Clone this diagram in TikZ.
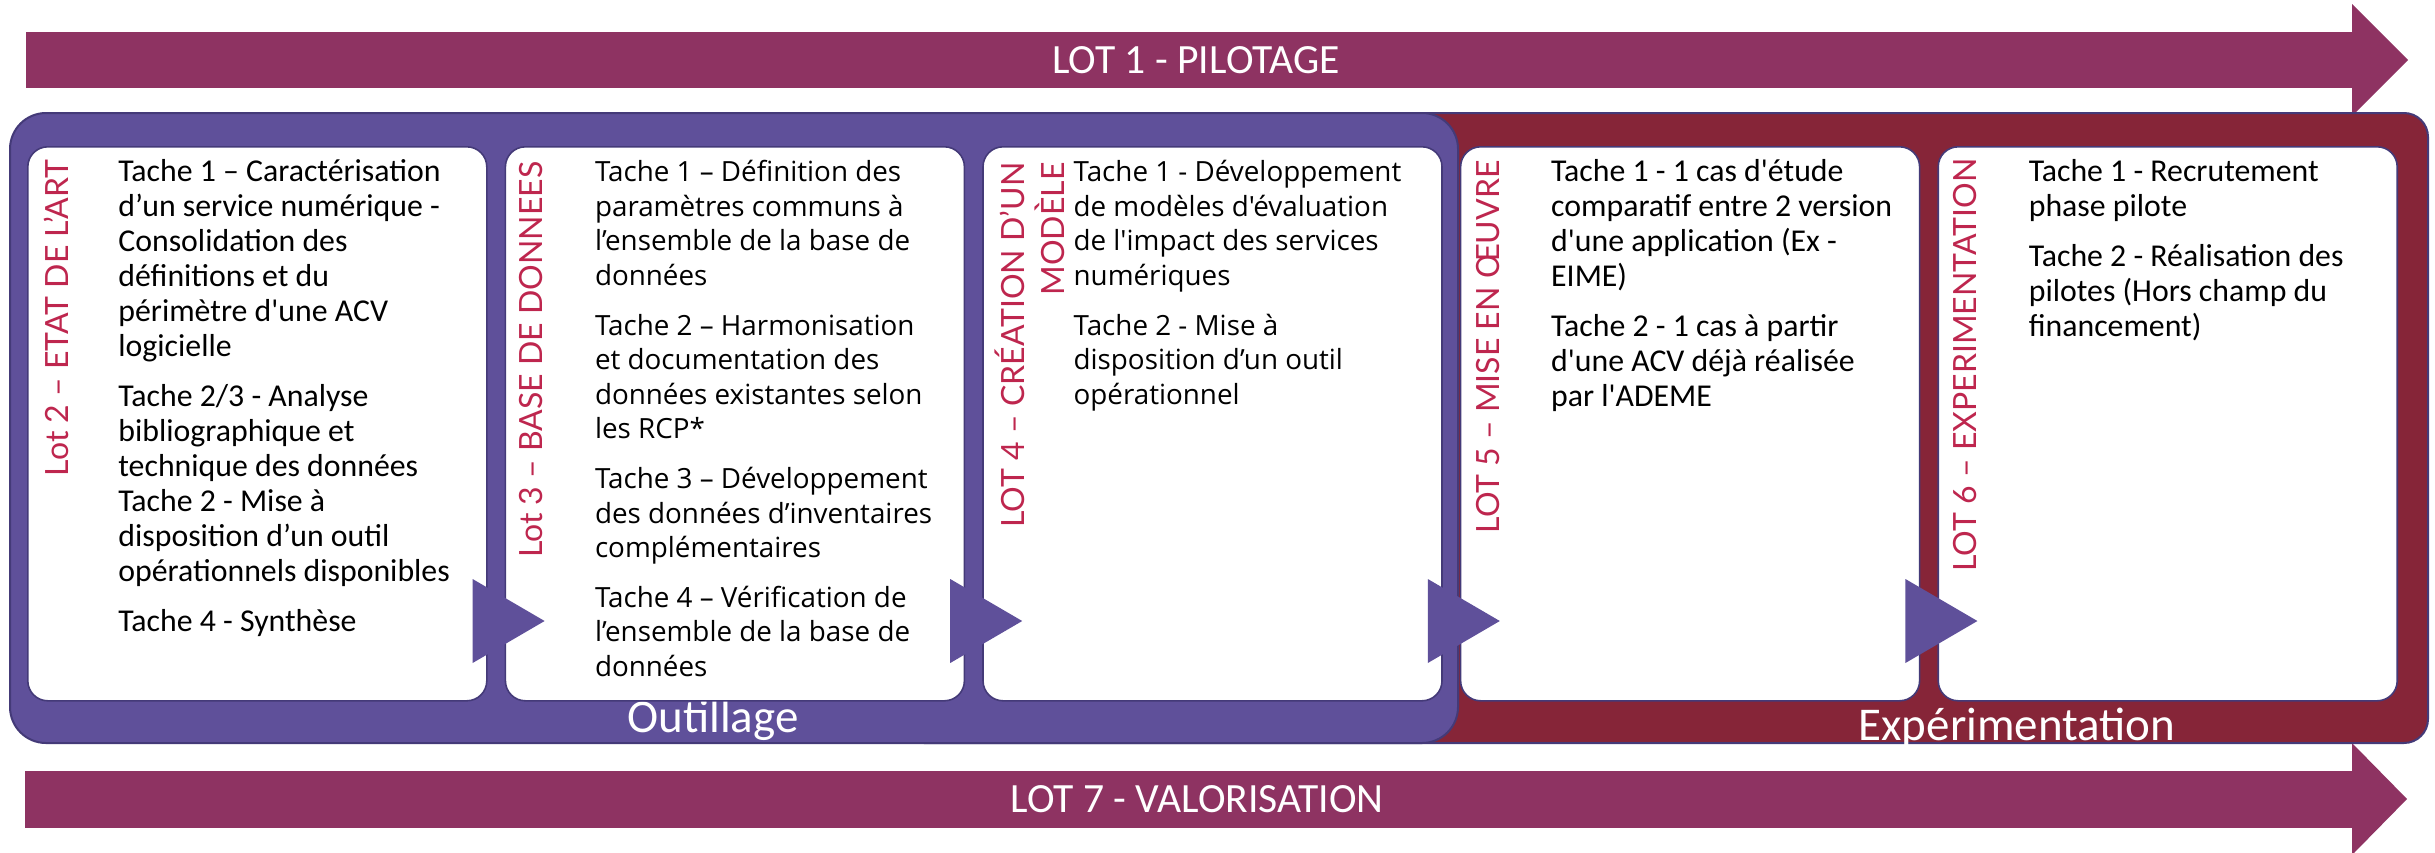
\documentclass[tikz,border=0pt]{standalone}
\usepackage{fontspec}
\setmainfont{Carlito}[Ligatures=TeXOff]
\newfontfamily\segoe{Open Sans}[Ligatures=TeXOff]
\newfontfamily\lotfont{Lato}[Ligatures=TeXOff]
\usetikzlibrary{positioning}
\definecolor{barPlum}{RGB}{142, 51, 98}
\definecolor{lotPurple}{RGB}{95, 80, 154}
\definecolor{lotPurpleDark}{RGB}{68, 58, 120}
\definecolor{lotRed}{RGB}{134, 37, 56}
\definecolor{lotCrimson}{RGB}{190, 38, 78}

\begin{document}
\begin{tikzpicture}[x=0.5pt, y=-0.5pt, node distance=8.5pt,
    taskbox/.style={draw=lotPurpleDark, line width=0.8pt, fill=white, rounded corners=10pt, minimum width=229.5pt, minimum height=277pt, inner sep=0pt},
    tasktext/.style={align=left, inner sep=0pt, font=\fontsize{15.9}{17.5}\selectfont},
    tasktextwide/.style={align=left, inner sep=0pt, font=\segoe\fontsize{13.9}{17.3}\selectfont},
    lotlabel/.style={rotate=90, anchor=east, inner sep=0pt, text=lotCrimson, font=\lotfont\fontsize{16}{20}\selectfont},
    chevron/.style={fill=lotPurple},
    bartext/.style={text=white, font=\fontsize{20.8}{24}\selectfont},
    grouptext/.style={text=white, anchor=base, font=\fontsize{23.5}{28}\selectfont}]

    \useasboundingbox (0,0) rectangle (2435,852);

    % bars
    \fill[barPlum] (26,32) rectangle (2352,88);
    \fill[barPlum] (2352,4) -- (2408,60) -- (2352,116) -- cycle;
    \fill[barPlum] (25,771) rectangle (2352,828);
    \fill[barPlum] (2352,743) -- (2407,799) -- (2352,855) -- cycle;
    \node[bartext] (lot1) at (1196,60) {LOT 1 - PILOTAGE};
    \node[bartext] (lot7) at (1197,799) {LOT 7 - VALORISATION};

    % groups
    \draw[lotPurpleDark, fill=lotRed, line width=1pt, rounded corners=12pt] (900,113) rectangle (2428,743);
    \draw[lotPurpleDark, fill=lotPurple, line width=1pt, rounded corners=18pt] (10,113) rectangle (1458,743);
    \node[grouptext] (outillage) at (713,732) {Outillage};
    \node[grouptext] (experimentation) at (2017,740) {Expérimentation};

    % lots
    \node[taskbox, anchor=north west] (lot2box) at (27,146) {};
    \node[taskbox, right=of lot2box] (lot3box) {};
    \node[taskbox, right=of lot3box] (lot4box) {};
    \node[taskbox, right=of lot4box] (lot5box) {};
    \node[taskbox, right=of lot5box] (lot6box) {};

    \node[lotlabel] (lot2label) at ([shift={(29,13)}]lot2box.north west) {Lot 2 – ETAT DE L’ART};
    \node[lotlabel] (lot3label) at ([shift={(26,15)}]lot3box.north west) {Lot 3 – BASE DE DONNEES};
    \node[lotlabel, align=right] (lot4label) at ([shift={(48,16)}]lot4box.north west) {LOT 4 – CRÉATION D’UN\\ MODÈLE};
    \node[lotlabel] (lot5label) at ([shift={(28,14)}]lot5box.north west) {LOT 5 – MISE EN ŒUVRE};
    \node[lotlabel] (lot6label) at ([shift={(28,12)}]lot6box.north west) {LOT 6 – EXPERIMENTATION};

    \node[tasktext, below right=6.5pt and 45.5pt of lot2box.north west] (lot2tasks) {Tache 1 – Caractérisation\\ d’un service numérique -\\ Consolidation des\\ définitions et du\\ périmètre d'une ACV\\ logicielle\\[7.5pt] Tache 2/3 - Analyse\\ bibliographique et\\ technique des données\\ Tache 2 - Mise à\\ disposition d’un outil\\ opérationnels disponibles\\[7.5pt] Tache 4 - Synthèse};
    \node[tasktextwide, below right=7pt and 45pt of lot3box.north west] (lot3tasks) {Tache 1 – Définition des\\ paramètres communs à\\ l’ensemble de la base de\\ données\\[7.5pt] Tache 2 – Harmonisation\\ et documentation des\\ données existantes selon\\ les RCP*\\[7.5pt] Tache 3 – Développement\\ des données d’inventaires\\ complémentaires\\[7.5pt] Tache 4 – Vérification de\\ l’ensemble de la base de\\ données};
    \node[tasktextwide, below right=7pt and 45.5pt of lot4box.north west] (lot4tasks) {Tache 1 - Développement\\ de modèles d'évaluation\\ de l'impact des services\\ numériques\\[7.5pt] Tache 2 - Mise à\\ disposition d’un outil\\ opérationnel};
    \node[tasktext, below right=6.5pt and 45.5pt of lot5box.north west] (lot5tasks) {Tache 1 - 1 cas d'étude\\ comparatif entre 2 version\\ d'une application (Ex -\\ EIME)\\[7.5pt] Tache 2 - 1 cas à partir\\ d'une ACV déjà réalisée\\ par l'ADEME};
    \node[tasktext, below right=6.5pt and 45.5pt of lot6box.north west] (lot6tasks) {Tache 1 - Recrutement\\ phase pilote\\[7.5pt] Tache 2 - Réalisation des\\ pilotes (Hors champ du\\ financement)};

    % chevrons between lots
    \fill[chevron] ([shift={(-15,433)}]lot2box.north east) -- ++(72,42) -- ++(-72,42) -- cycle;
    \fill[chevron] ([shift={(-15,433)}]lot3box.north east) -- ++(72,42) -- ++(-72,42) -- cycle;
    \fill[chevron] ([shift={(-15,433)}]lot4box.north east) -- ++(72,42) -- ++(-72,42) -- cycle;
    \fill[chevron] ([shift={(-15,433)}]lot5box.north east) -- ++(72,42) -- ++(-72,42) -- cycle;
\end{tikzpicture}
\end{document}
